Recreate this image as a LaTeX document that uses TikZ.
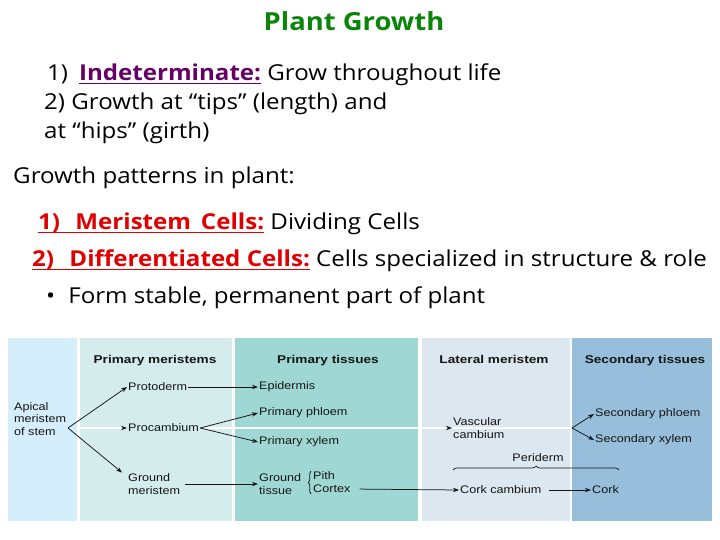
\documentclass[tikz,border=0pt]{standalone}
\usepackage{fontspec}
\usetikzlibrary{arrows.meta,decorations.pathreplacing}
\newfontfamily\topf[FakeStretch=1.1]{Open Sans}
\newfontfamily\dgf[FakeStretch=1.15]{Liberation Sans}
\newfontfamily\dghf[FakeStretch=1.2]{Liberation Sans}
\definecolor{titlegreen}{HTML}{0A850A}
\definecolor{ipurple}{HTML}{660066}
\definecolor{mred}{HTML}{E00000}
\definecolor{pA}{HTML}{D4EEFB}
\definecolor{pB}{HTML}{D4EDEC}
\definecolor{pC}{HTML}{9FD7D5}
\definecolor{pD}{HTML}{DCE7EF}
\definecolor{pE}{HTML}{97BFDB}
\definecolor{ink}{HTML}{151515}
\newcommand\myul[2]{{\setbox0=\hbox{#2}\rlap{\color{#1}\raisebox{-3.5bp}{\rule{\wd0}{1.6bp}}}\box0}}
\begin{document}
\begin{tikzpicture}[x=1bp,y=-1bp,
  tt/.style={font=\topf\fontsize{22}{26}\selectfont, inner sep=0pt},
  lbl/.style={font=\dgf\fontsize{11}{12.5}\selectfont, text=ink, inner sep=1bp, anchor=west, align=left},
  hdr/.style={font=\dghf\bfseries\fontsize{11.4}{13}\selectfont, text=ink, inner sep=0pt, anchor=base},
  arr/.style={draw=ink, line width=0.75bp, -{Stealth[length=6bp,width=4.4bp]}},
  wl/.style={draw=white, line width=1.1bp, -{Stealth[ink,length=6bp,width=4.4bp]}},
  ln/.style={draw=white, line width=1.1bp},
  brc/.style={draw=ink, line width=0.7bp, decorate}]
\useasboundingbox (0,0) rectangle (720,540);
\fill[white] (0,0) rectangle (720,540);
% ---- top text
\node[tt, anchor=base, font=\topf\bfseries\fontsize{25}{30}\selectfont, text=titlegreen] (title) at (354,31) {Plant Growth};
\node[tt, anchor=base west] (l1) at (47,81) {1)\hspace{0.5em}\myul{ipurple}{\textcolor{ipurple}{\bfseries Indeterminate:}} Grow throughout life};
\node[tt, anchor=base west] (l2) at (44,110) {2) Growth at “tips” (length) and};
\node[tt, anchor=base west] (l3) at (44,139) {at “hips” (girth)};
\node[tt, anchor=base west] (gp) at (13,184) {Growth patterns in plant:};
\node[tt, anchor=base west] (m1) at (38,230) {\myul{mred}{\textcolor{mred}{\bfseries 1)\hspace{0.7em}Meristem\hspace{0.45em}Cells:}} Dividing Cells};
\node[tt, anchor=base west] (m2) at (32,267) {\myul{mred}{\textcolor{mred}{\bfseries 2)\hspace{0.7em}Differentiated Cells:}} Cells specialized in structure \& role};
\node[tt, anchor=base west] (m3) at (46,303) {\textbullet\hspace{0.6em}Form stable, permanent part of plant};
% ---- panels
\fill[pA] (8,338) rectangle (77,521);
\fill[pB] (80,338) rectangle (232,521);
\fill[pC] (235,338) rectangle (418,521);
\fill[pD] (422,338) rectangle (570,521);
\fill[pE] (572,338) rectangle (712,521);
% headers
\node[hdr] (h2) at (155,363) {Primary meristems};
\node[hdr] (h3) at (328,363) {Primary tissues};
\node[hdr] (h4) at (494,363) {Lateral meristem};
\node[hdr] (h5) at (645,363) {Secondary tissues};
% labels
\node[lbl] (apical) at (13,419) {Apical\\meristem\\of stem};
\coordinate (ap) at (68,428);
\node[lbl] (proto) at (127,387) {Protoderm};
\node[lbl] (proc) at (127,428) {Procambium};
\node[lbl] (gm) at (127,484) {Ground\\meristem};
\node[lbl] (epi) at (258,387) {Epidermis};
\node[lbl] (pph) at (258,413) {Primary phloem};
\node[lbl] (pxy) at (258,442) {Primary xylem};
\node[lbl] (gt) at (258,484) {Ground\\tissue};
\node[lbl] (pith) at (312,476) {Pith};
\node[lbl] (cortex) at (312,489) {Cortex};
\node[lbl] (vc) at (452,428) {Vascular\\cambium};
\node[lbl] (cc) at (459,490) {Cork cambium};
\node[lbl] (cork) at (591,490) {Cork};
\node[lbl] (sph) at (594,414) {Secondary phloem};
\node[lbl] (sxy) at (594,440) {Secondary xylem};
\node[lbl, anchor=center] (peri) at (538,458) {Periderm};
\coordinate (sb) at (572,428);
\coordinate (pb1) at (453,470);
\coordinate (pb2) at (619,470);
\coordinate (gb1) at (311,494);
\coordinate (gb2) at (311,471);
% connectors
\draw[wl] (ap -| 77,0) -- (proc.west);
\draw[wl] (proc.east) -- (vc.west);
\draw[ln] (vc.west) -- (sb);
\draw[arr] (ap) -- (proto.west);
\draw[arr] (ap) -- ([xshift=-5]gm.north west);
\draw[arr] (proto.east) -- (epi.west);
\draw[arr] (proc.east) -- (pph.west);
\draw[arr] (proc.east) -- (pxy.west);
\draw[arr] ([xshift=4]gm.east) -- (gt.west);
\draw[arr, shorten <=8bp] (cortex.east) -- (cc.west);
\draw[arr, shorten <=6bp] (cc.east) -- (cork.west);
\draw[arr] (sb) -- (sph.west);
\draw[arr] (sb) -- (sxy.west);
\draw[brc, decoration={brace, amplitude=4bp}] (pb1) -- (pb2);
\draw[brc, decoration={brace, amplitude=2.5bp}] (gb1) -- (gb2);
\end{tikzpicture}
\end{document}
